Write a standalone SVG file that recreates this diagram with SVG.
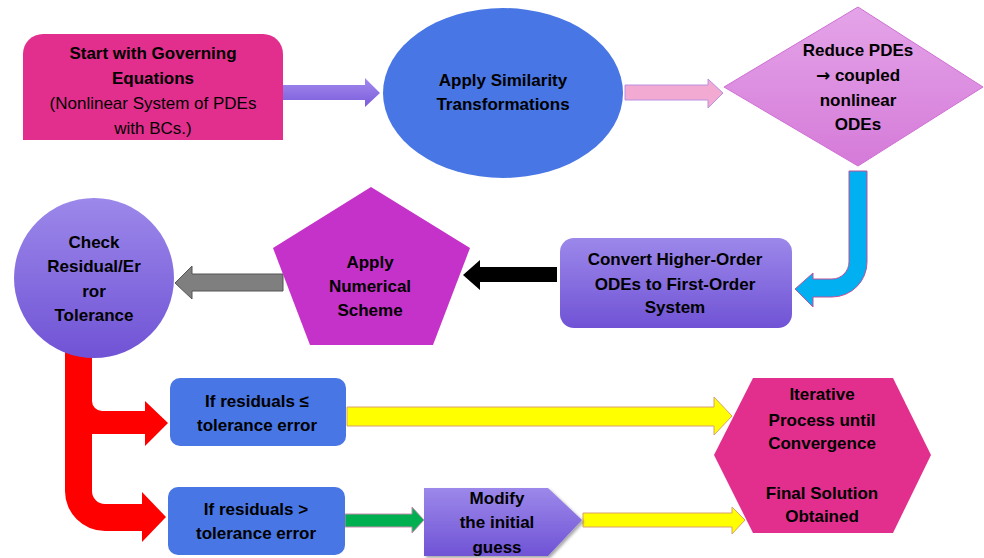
<svg xmlns="http://www.w3.org/2000/svg" width="984" height="558" viewBox="0 0 984 558">
  <defs>
    <linearGradient id="violet" x1="0" y1="0" x2="0" y2="1">
      <stop offset="0" stop-color="#9C88EA"/>
      <stop offset="1" stop-color="#7053D5"/>
    </linearGradient>
    <linearGradient id="orchid" x1="0" y1="0" x2="0" y2="1">
      <stop offset="0" stop-color="#E4A4E8"/>
      <stop offset="1" stop-color="#D57AD9"/>
    </linearGradient>
    <linearGradient id="lavArrow" x1="0" y1="0" x2="0" y2="1">
      <stop offset="0" stop-color="#A38AEE"/>
      <stop offset="1" stop-color="#7A5CDB"/>
    </linearGradient>
    <filter id="shadow" x="-10%" y="-10%" width="125%" height="130%">
      <feDropShadow dx="2" dy="2" stdDeviation="1.5" flood-color="#000" flood-opacity="0.35"/>
    </filter>
    <style>
      text { font-family: "Liberation Sans", Arial, sans-serif; font-size: 17px; font-weight: bold; fill: #000; text-anchor: middle; }
      .reg { font-weight: normal; }
      .sym { font-family: "DejaVu Sans", sans-serif; }
      .magenta { fill: #E22F8E; }
      .royal { fill: #4876E4; }
      .violet { fill: url(#violet); }
    </style>
  </defs>

  <!-- connectors -->
  <g id="connectors">
    <!-- start -> similarity -->
    <path d="M283,85 L365,85 L365,78 L380,93 L365,107 L365,100 L283,100 Z" fill="url(#lavArrow)"/>
    <!-- similarity -> reduce -->
    <path d="M625,85 L708,85 L708,79 L723,93 L708,108 L708,100 L625,100 Z" fill="#F2A9D2" stroke="#B890E0" stroke-width="1"/>
    <!-- reduce -> convert (bent) -->
    <path d="M849,171 L867,171 L867,262 A35,35 0 0 1 832,297 L813,297 L813,307 L795,289 L813,273 L813,279 L832,279 A17,17 0 0 0 849,262 Z" fill="#00B0F0" stroke="#C0509A" stroke-width="1"/>
    <!-- convert -> numerical scheme -->
    <path d="M557,267 L480,267 L480,260 L463,275 L480,290 L480,282 L557,282 Z" fill="#000"/>
    <!-- numerical scheme -> check -->
    <path d="M283,274 L192,274 L192,266 L175,283 L192,299 L192,291 L283,291 Z" fill="#7F7F7F" stroke="#555" stroke-width="1"/>
    <!-- check -> branches -->
    <path d="M65,345 L92,345 L92,401 A10,10 0 0 0 102,411 L145,411 L145,401 L168,423 L145,446 L145,434 L92,434 L92,491 A13,13 0 0 0 105,504 L142,504 L142,492 L166,517 L142,542 L142,531 L105,531 A40,40 0 0 1 65,491 Z" fill="#FF0000"/>
    <!-- residuals <= tolerance -> final -->
    <path d="M347,407 L714,407 L714,397 L732,416 L714,435 L714,426 L347,426 Z" fill="#FFFF00" stroke="#D9A070" stroke-width="1"/>
    <!-- residuals > tolerance -> modify -->
    <path d="M345,514 L412,514 L412,507 L424,520 L412,533 L412,527 L345,527 Z" fill="#00B050" stroke="#C88AB0" stroke-width="1"/>
    <!-- modify -> final -->
    <path d="M583,513 L732,513 L732,507 L745,520 L732,534 L732,527 L583,527 Z" fill="#FFFF00" stroke="#D9A070" stroke-width="1"/>
  </g>

  <g id="start">
    <path class="magenta" d="M23,140 L23,54 A20,20 0 0 1 43,34 L263,34 A20,20 0 0 1 283,54 L283,140 Z"/>
    <text x="153" y="59">Start with Governing</text>
    <text x="153" y="84">Equations</text>
    <text class="reg" x="153" y="109">(Nonlinear System of PDEs</text>
    <text class="reg" x="153" y="134">with BCs.)</text>
  </g>

  <g id="similarity">
    <ellipse class="royal" cx="503" cy="93" rx="120" ry="85"/>
    <text x="503" y="86">Apply Similarity</text>
    <text x="503" y="110">Transformations</text>
  </g>

  <g id="reduce">
    <polygon points="858,7 983,87 858,166 724,87" fill="url(#orchid)" stroke="#D070D4" stroke-width="1"/>
    <text x="858" y="56">Reduce PDEs</text>
    <text x="858" y="81"><tspan class="sym">→</tspan> coupled</text>
    <text x="858" y="106">nonlinear</text>
    <text x="858" y="130">ODEs</text>
  </g>

  <g id="convert">
    <rect class="violet" x="560" y="238" width="232" height="90" rx="14"/>
    <text x="675" y="265">Convert Higher-Order</text>
    <text x="675" y="290">ODEs to First-Order</text>
    <text x="675" y="313">System</text>
  </g>

  <g id="numerical">
    <polygon points="371,187 470,248 433,345 310,345 273,248" fill="#C532C9"/>
    <text x="370" y="268">Apply</text>
    <text x="370" y="292">Numerical</text>
    <text x="370" y="316">Scheme</text>
  </g>

  <g id="check">
    <circle class="violet" cx="94" cy="278" r="80"/>
    <text x="94" y="248">Check</text>
    <text x="94" y="272">Residual/Er</text>
    <text x="94" y="297">ror</text>
    <text x="94" y="321">Tolerance</text>
  </g>

  <g id="within-tolerance">
    <rect class="royal" x="170" y="378" width="176" height="68" rx="10"/>
    <text x="257" y="407">If residuals ≤</text>
    <text x="257" y="431">tolerance error</text>
  </g>

  <g id="above-tolerance">
    <rect class="royal" x="168" y="487" width="177" height="68" rx="10"/>
    <text x="256" y="515">If residuals &gt;</text>
    <text x="256" y="539">tolerance error</text>
  </g>

  <g id="modify">
    <polygon class="violet" points="424,488 548,488 582,520 548,556 424,556" filter="url(#shadow)"/>
    <text x="497" y="504">Modify</text>
    <text x="497" y="528">the initial</text>
    <text x="497" y="553">guess</text>
  </g>

  <g id="final">
    <polygon class="magenta" points="753,378 893,378 931,455 893,533 753,533 714,455"/>
    <text x="822" y="400">Iterative</text>
    <text x="822" y="426">Process until</text>
    <text x="822" y="449">Convergence</text>
    <text x="822" y="499">Final Solution</text>
    <text x="822" y="522">Obtained</text>
  </g>
</svg>
